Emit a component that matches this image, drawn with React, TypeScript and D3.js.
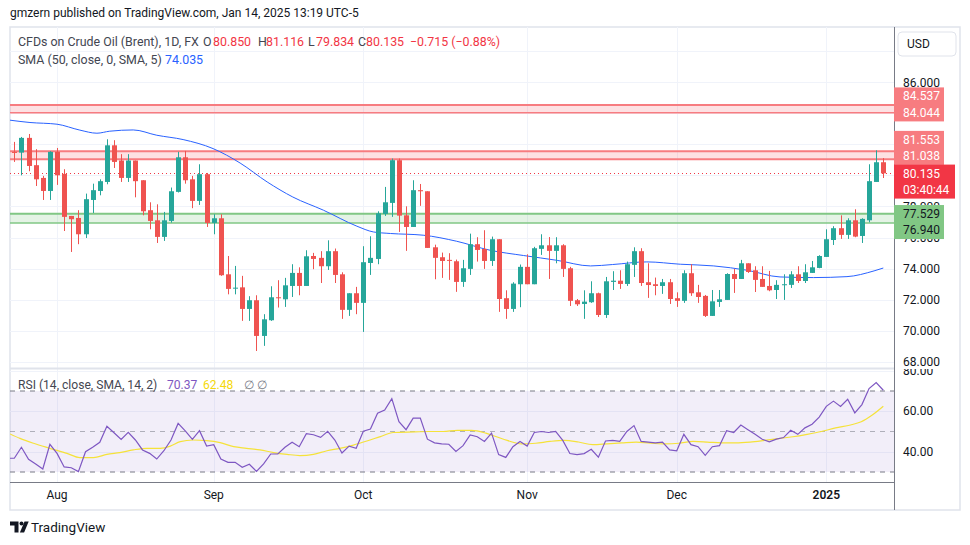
import React from 'react';
import * as d3 from 'd3';

const W = 970;
const H = 545;

// Daily candles (Jul 24, 2024 .. Jan 14, 2025)
const opens = [81.52,81.47,82.42,80.66,79.84,79.00,81.52,80.10,77.39,77.26,76.21,78.42,79.00,79.58,81.94,80.96,79.84,80.96,79.69,77.76,77.11,76.04,77.07,78.94,81.17,79.75,78.36,80.08,76.94,77.24,73.63,72.73,72.79,71.40,71.96,69.66,70.67,72.15,72.02,72.88,73.72,72.88,74.81,74.69,74.15,75.12,73.63,71.34,72.41,71.79,74.36,74.62,77.52,78.23,80.98,77.43,76.68,79.05,78.98,75.37,74.73,74.56,74.47,73.14,73.98,75.57,75.26,74.49,75.89,72.09,71.40,72.99,74.11,72.99,75.27,75.50,75.14,75.50,74.02,71.96,71.72,71.83,72.41,71.01,73.14,73.22,73.01,74.24,75.12,73.12,72.99,72.88,73.12,72.09,71.92,73.70,72.47,72.24,70.95,71.85,71.98,73.65,73.33,74.34,73.89,73.33,72.88,72.62,72.95,72.95,73.63,73.20,73.72,74.04,74.75,75.84,76.60,76.17,77.11,76.10,77.11,79.58,80.85];
const highs = [82.16,82.48,82.67,81.69,79.97,81.56,81.77,80.40,77.39,77.76,78.83,79.47,79.75,82.33,82.27,81.37,81.37,80.96,79.69,78.27,78.14,77.65,79.22,81.52,81.58,79.97,80.72,80.16,77.50,77.50,74.81,74.17,73.53,72.22,72.28,71.06,72.86,73.25,73.40,74.28,74.08,75.18,75.01,75.12,75.82,75.29,73.76,72.41,72.82,75.44,76.08,77.69,79.26,81.09,81.09,78.01,79.69,79.45,78.98,75.54,75.03,74.99,74.58,74.56,76.25,76.02,76.47,76.06,75.89,72.60,73.12,74.26,74.92,75.40,76.21,76.03,76.02,75.57,74.11,72.04,72.60,73.18,72.45,73.46,73.83,73.89,74.45,75.37,75.31,74.34,73.42,73.33,73.33,72.47,73.89,74.28,72.95,72.30,72.62,72.62,73.70,73.98,74.56,74.34,74.15,74.15,73.85,73.25,73.63,73.83,74.15,74.28,74.49,74.86,76.53,76.73,77.43,77.24,77.82,77.24,80.72,81.62,81.116];
const lows = [80.87,80.01,80.27,79.32,78.42,78.42,79.39,76.42,75.07,75.57,75.97,77.58,78.72,79.43,80.48,79.58,79.58,78.59,77.43,76.53,75.65,75.78,76.96,78.90,79.47,77.89,78.10,76.68,76.21,73.53,72.34,72.34,70.63,70.63,68.69,69.02,70.63,71.49,71.53,72.17,72.28,72.88,73.96,73.07,73.91,73.07,70.76,70.95,71.06,69.92,73.59,74.28,77.39,77.33,76.36,75.14,76.68,78.04,75.33,73.31,73.40,73.27,72.50,72.82,73.59,74.45,73.98,74.17,71.21,70.76,71.21,71.51,72.99,72.99,74.88,73.33,74.34,73.46,71.59,71.59,70.76,71.79,70.88,70.82,72.62,72.69,72.88,73.46,72.88,72.11,72.28,72.37,71.72,71.53,71.79,72.24,71.79,70.88,70.95,71.53,71.98,72.43,73.33,73.72,72.49,72.82,72.54,72.04,71.98,72.75,73.07,73.07,73.72,74.02,74.75,75.52,75.91,75.91,76.02,75.65,76.98,79.58,79.834];
const closes = [81.45,82.42,80.61,79.75,79.00,81.52,80.01,77.33,77.18,76.21,78.47,79.05,79.63,81.94,80.87,79.84,80.96,79.63,77.69,77.07,76.04,77.11,78.98,81.17,79.69,78.36,80.08,76.94,77.24,73.57,72.69,72.77,71.40,71.96,69.66,70.73,72.15,72.11,72.92,73.72,72.88,74.79,74.62,74.15,75.12,73.59,71.34,72.41,71.79,74.41,74.69,77.56,78.27,80.98,77.41,76.68,79.05,78.98,75.33,74.69,74.49,74.51,73.14,74.02,75.57,75.20,74.49,75.89,72.04,71.40,73.03,74.11,72.99,75.31,75.50,75.14,75.50,73.98,71.92,71.70,71.87,72.41,71.01,73.18,73.22,73.01,74.28,75.12,73.07,72.94,72.88,73.12,72.04,71.92,73.70,72.41,72.17,70.95,71.89,72.02,73.65,73.33,74.34,73.78,73.27,72.82,72.60,72.95,72.99,73.63,73.20,73.76,74.08,74.81,75.89,76.60,76.17,77.11,76.06,77.20,79.63,80.85,80.135];

// SMA(50) read at sample bars
const smaIdx = [-0.6,2.2,6.0,9.2,11.6,13.4,16.7,20.0,23.7,27.9,31.7,35.5,39.1,43.4,48.1,50.4,52.8,57.4,62.1,66.8,71.5,76.2,80.9,84.0,88.8,93.5,98.2,102.9,107.5,112.2,116.9,120.7,122];
const smaVal = [83.56,83.41,83.30,82.92,82.72,82.85,82.93,82.59,82.31,81.73,80.80,79.58,78.61,77.76,76.73,76.36,76.26,76.15,75.76,75.18,74.84,74.53,74.17,74.26,74.43,74.28,74.17,73.89,73.46,73.42,73.48,73.85,74.035];

// RSI(14), first value is the bar before the visible range
const rsiValues = [36.8,36.8,42.2,36.3,34.0,31.5,43.7,39.2,32.5,32.1,30.2,40.0,42.2,44.7,52.6,49.4,46.1,49.6,45.8,40.9,39.2,36.4,40.5,45.8,54.0,50.3,46.1,50.4,42.8,43.5,36.4,34.8,34.8,32.3,33.8,30.3,34.0,38.9,38.9,42.2,44.7,42.5,48.9,48.4,47.1,50.1,45.8,39.4,42.8,41.7,50.1,51.2,59.0,60.6,66.2,54.9,50.9,56.6,56.6,46.2,44.4,43.9,43.7,40.2,43.0,48.3,47.4,45.1,49.2,38.6,37.2,42.5,45.1,42.8,49.5,50.0,49.5,50.0,45.6,39.1,38.6,39.1,41.2,37.3,45.3,45.6,45.1,50.0,52.9,45.1,44.8,44.4,44.8,40.9,40.5,48.6,43.5,42.5,38.2,42.5,43.0,50.4,49.5,53.2,50.9,48.6,46.2,44.9,46.2,47.0,50.6,48.6,51.8,53.6,57.1,62.4,65.0,62.4,65.9,59.2,63.3,71.2,74.2,70.37];

// RSI-based SMA read at sample bars
const rsiMaIdx = [-0.6,0.8,2.7,5.0,7.4,9.2,11.1,13.0,14.8,16.7,18.6,20.5,21.9,23.3,25.1,27.0,28.9,30.8,32.6,34.5,36.4,38.3,40.1,42.0,43.9,45.7,47.6,49.5,51.4,53.2,56.2,58.2,60.2,62.2,64.2,66.2,67.7,69.2,71.2,73.2,75.2,77.2,79.2,81.2,83.2,85.3,87.3,89.3,91.3,93.3,95.3,97.3,99.3,101.3,103.3,105.3,107.3,109.3,111.3,113.3,115.3,117.4,118.9,120.4,122];
const rsiMaVal = [48.8,46.6,44.2,41.7,39.2,37.1,37.1,38.7,39.6,40.9,41.7,41.7,42.8,45.0,45.8,45.5,44.5,42.5,41.7,40.9,39.6,38.7,38.1,38.7,40.5,41.7,43.3,45.3,47.5,49.5,49.8,50.0,50.0,50.6,50.6,49.2,47.4,45.6,43.9,44.2,45.1,45.6,44.8,43.5,43.9,44.4,44.8,44.2,43.9,44.2,45.1,44.8,44.4,44.4,44.8,45.6,46.5,47.4,48.6,50.0,51.8,53.2,54.8,58.0,62.48];

const monthLabels = ['Aug', 'Sep', 'Oct', 'Nov', 'Dec', '2025'];
const monthIdx = [6, 28, 49, 72, 93, 114];
const priceTicks = [86, 78, 76, 74, 72, 70, 68];
const gridPrices = [88, 86, 84, 82, 80, 78, 76, 74, 72, 70, 68];
const rsiTicks = [80, 60, 40];
const redBands = [[84.537, 84.044], [81.553, 81.038]];
const greenBand = [77.529, 76.94];
const lastPrice = 80.135;
const countdown = '03:40:44';

const FONT = "Roboto, 'Noto Sans', sans-serif";
const GREEN = '#26a69a';
const RED = '#ef5350';

export default function App() {
  const left = 10, right = 894, top = 27, mainBottom = 368, rsiTop = 369, rsiBottom = 482, bottom = 510;
  const x = d3.scaleLinear().domain([0, 122]).range([14.3, 883.3]);
  const y = d3.scaleLinear().domain([68, 86]).range([361.7, 82.3]);
  const yr = d3.scaleLinear().domain([30, 70]).range([472, 391]);

  const smaLine = d3.line<number>().x((_, i) => x(smaIdx[i])).y((d) => y(d)).curve(d3.curveMonotoneX);
  const rsiLine = d3.line<number>().x((_, i) => x(i - 1)).y((d) => yr(d));
  const rsiMaLine = d3.line<number>().x((_, i) => x(rsiMaIdx[i])).y((d) => yr(d)).curve(d3.curveMonotoneX);

  const lh = 16.5;
  const labelBox = (lines: string[], yFirst: number, fill: string, color: string, w: number, key: string) => {
    const h = lines.length * lh + 1;
    return (
      <g key={key}>
        <rect x={right} y={yFirst - lh / 2 - 0.5} width={w} height={h} fill={fill} />
        {lines.map((t, i) => (
          <text key={i} x={903} y={yFirst + i * lh} dy="0.35em" fontSize={12} fill={color} fontFamily={FONT}>{t}</text>
        ))}
      </g>
    );
  };

  const curY = y(lastPrice);
  const bandBY2 = curY - 8.5 - 8.7;
  const greenTop = y(greenBand[0]) - lh / 2 - 0.5;
  const greenBottom = greenTop + 2 * lh + 1;

  return (
    <svg width={W} height={H} style={{ position: 'absolute', left: 0, top: 0, background: '#fff' }} fontFamily={FONT}>
      <defs>
        <clipPath id="mainClip"><rect x={left} y={top} width={right - left} height={mainBottom - top} /></clipPath>
        <clipPath id="rsiClip"><rect x={left} y={rsiTop} width={right - left} height={rsiBottom - rsiTop} /></clipPath>
        <clipPath id="rsiAxisClip"><rect x={right} y={rsiTop} width={70} height={rsiBottom - rsiTop} /></clipPath>
        <clipPath id="priceAxisClip">
          <rect x={right} y={top} width={70} height={greenTop - top} />
          <rect x={right} y={greenBottom} width={70} height={mainBottom - greenBottom} />
        </clipPath>
      </defs>
      <rect x={0} y={0} width={W} height={H} fill="#fff" />
      <text x={10} y={13} dy="0.35em" fontSize={12} fill="#131722">gmzern published on TradingView.com, Jan 14, 2025 13:19 UTC-5</text>

      {/* frame */}
      <rect x={left} y={top} width={960 - left} height={bottom - top} fill="#fff" stroke="#e0e3eb" strokeWidth={1.5} />

      {/* grid */}
      <g stroke="#f0f3fa" strokeWidth={1}>
        {gridPrices.map((p) => (
          <line key={p} x1={left} x2={right} y1={Math.round(y(p)) + 0.5} y2={Math.round(y(p)) + 0.5} />
        ))}
        {rsiTicks.map((v) => (
          <line key={'r' + v} x1={left} x2={right} y1={Math.round(yr(v)) + 0.5} y2={Math.round(yr(v)) + 0.5} />
        ))}
        {monthIdx.map((m) => (
          <line key={'m' + m} x1={Math.round(x(m)) + 0.5} x2={Math.round(x(m)) + 0.5} y1={top} y2={rsiBottom} />
        ))}
      </g>

      {/* main pane */}
      <g clipPath="url(#mainClip)">
        {redBands.map((b, i) => (
          <g key={'rb' + i}>
            <rect x={left} width={right - left} y={y(b[0])} height={y(b[1]) - y(b[0])} fill="#f23645" fillOpacity={0.15} />
            <line x1={left} x2={right} y1={y(b[0])} y2={y(b[0])} stroke="#f77c80" strokeWidth={2} />
            <line x1={left} x2={right} y1={y(b[1])} y2={y(b[1])} stroke="#f77c80" strokeWidth={i === 0 ? 1.5 : 2} />
          </g>
        ))}
        <rect x={left} width={right - left} y={y(greenBand[0])} height={y(greenBand[1]) - y(greenBand[0])} fill="#4caf50" fillOpacity={0.15} />
        <line x1={left} x2={right} y1={y(greenBand[0])} y2={y(greenBand[0])} stroke="#81c784" strokeWidth={2} />
        <line x1={left} x2={right} y1={y(greenBand[1])} y2={y(greenBand[1])} stroke="#81c784" strokeWidth={1.5} />
        <line x1={left} x2={right} y1={Math.round(curY) + 0.5} y2={Math.round(curY) + 0.5} stroke="#f23645" strokeWidth={1} strokeDasharray="1,3" />
        <path d={smaLine(smaVal) || ''} fill="none" stroke="#2962ff" strokeWidth={1} />
        {closes.map((c, i) => {
          const o = opens[i];
          const up = c >= o;
          const col = up ? GREEN : RED;
          const cx = Math.round(x(i));
          const yt = y(Math.max(o, c));
          const yb = y(Math.min(o, c));
          return (
            <g key={i}>
              <line x1={cx + 0.5} x2={cx + 0.5} y1={y(highs[i])} y2={y(lows[i])} stroke={col} strokeWidth={1} />
              <rect x={cx - 2} y={yt} width={5} height={Math.max(1, yb - yt)} fill={col} />
            </g>
          );
        })}
      </g>

      {/* legend */}
      <text y={42} dy="0.35em" fontSize={12.4}>
        <tspan x={18} fill="#434651">CFDs on Crude Oil (Brent), 1D, FX</tspan>
        <tspan x={203} fill="#434651">O</tspan>
        <tspan x={213} fill="#f23645">80.850</tspan>
        <tspan x={258} fill="#434651">H</tspan>
        <tspan x={266} fill="#f23645">81.116</tspan>
        <tspan x={308} fill="#434651">L</tspan>
        <tspan x={316} fill="#f23645">79.834</tspan>
        <tspan x={358} fill="#434651">C</tspan>
        <tspan x={366} fill="#f23645">80.135</tspan>
        <tspan x={410} fill="#f23645">−0.715 (−0.88%)</tspan>
      </text>
      <text y={60} dy="0.35em" fontSize={12.4}>
        <tspan x={18} fill="#434651">SMA (50, close, 0, SMA, 5)</tspan>
        <tspan x={165} fill="#2962ff">74.035</tspan>
      </text>

      {/* pane separator */}
      <line x1={left} x2={right} y1={mainBottom + 0.5} y2={mainBottom + 0.5} stroke="#e0e3eb" strokeWidth={2} />

      {/* RSI pane */}
      <rect x={left} width={right - left} y={yr(70)} height={yr(30) - yr(70)} fill="#7e57c2" fillOpacity={0.1} />
      <g clipPath="url(#rsiClip)">
        <line x1={left} x2={right} y1={yr(70)} y2={yr(70)} stroke="#787b86" strokeDasharray="5,5" />
        <line x1={left} x2={right} y1={yr(50)} y2={yr(50)} stroke="#787b86" strokeOpacity={0.55} strokeDasharray="5,5" />
        <line x1={left} x2={right} y1={yr(30)} y2={yr(30)} stroke="#787b86" strokeDasharray="5,5" />
        <path d={rsiMaLine(rsiMaVal) || ''} fill="none" stroke="#f5e23a" strokeWidth={1.2} />
        <path d={rsiLine(rsiValues) || ''} fill="none" stroke="#7e57c2" strokeWidth={1.2} />
      </g>
      <text y={385} dy="0.35em" fontSize={12.1}>
        <tspan x={18} fill="#434651">RSI (14, close, SMA, 14, 2)</tspan>
        <tspan x={167} fill="#7e57c2">70.37</tspan>
        <tspan x={203} fill="#f5d90a">62.48</tspan>
        <tspan x={244} fill="#787b86">∅</tspan>
        <tspan x={257} fill="#787b86">∅</tspan>
      </text>

      {/* axes borders */}
      <line x1={right + 0.5} x2={right + 0.5} y1={top} y2={bottom} stroke="#787b86" strokeWidth={1} />
      <line x1={left} x2={right} y1={rsiBottom + 0.5} y2={rsiBottom + 0.5} stroke="#787b86" strokeWidth={1} />

      {/* price axis */}
      <g clipPath="url(#priceAxisClip)">
        {priceTicks.map((p) => (
          <text key={p} x={903} y={y(p)} dy="0.35em" fontSize={12} fill="#131722">{p.toFixed(3)}</text>
        ))}
      </g>
      <g clipPath="url(#rsiAxisClip)">
        {rsiTicks.map((v) => (
          <text key={v} x={903} y={yr(v)} dy="0.35em" fontSize={12} fill="#131722">{v.toFixed(2)}</text>
        ))}
      </g>
      <rect x={898} y={32} width={58} height={24} rx={4} fill="#fff" stroke="#e0e3eb" />
      <text x={907} y={44} dy="0.35em" fontSize={12} fill="#131722">USD</text>

      {labelBox(redBands[0].map((v) => v.toFixed(3)), y(redBands[0][1]) - lh, '#f77c80', '#fff', 50, 'la')}
      {labelBox(redBands[1].map((v) => v.toFixed(3)), bandBY2 - lh, '#f77c80', '#fff', 50, 'lb')}
      {labelBox([lastPrice.toFixed(3), countdown], curY, '#f23645', '#fff', 61, 'lc')}
      {labelBox(greenBand.map((v) => v.toFixed(3)), y(greenBand[0]), '#81c784', '#131722', 50, 'ld')}

      {/* time axis */}
      {monthIdx.map((m, i) => (
        <text key={m} x={x(m)} y={495} dy="0.35em" textAnchor="middle" fontSize={12} fontWeight={monthLabels[i] === '2025' ? 600 : 400} fill="#131722">{monthLabels[i]}</text>
      ))}

      {/* footer logo */}
      <g fill="#131722">
        <path d="M10 521.5 h8.5 v11 h-4 v-7 h-4.5 z" />
        <circle cx={21.5} cy={523.5} r={2} />
        <path d="M24.5 521.5 h4.2 l-4.6 11 h-4.2 z" />
      </g>
      <text x={31} y={527} dy="0.35em" fontSize={13.5} fill="#131722">TradingView</text>
    </svg>
  );
}
